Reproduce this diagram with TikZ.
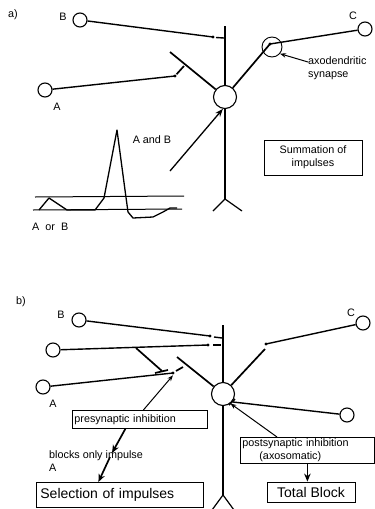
\documentclass[tikz,border=0pt]{standalone}
\usepackage{fontspec}
\setmainfont{Liberation Sans}
\usetikzlibrary{arrows.meta}
\begin{document}
\begin{tikzpicture}[x=1pt,y=-1pt,
  neuron/.style={circle,draw,line width=1.1pt,minimum size=14pt,inner sep=0pt},
  soma/.style={circle,draw,line width=1.1pt,minimum size=23pt,inner sep=0pt},
  ring/.style={circle,draw,line width=0.9pt,minimum size=20pt,inner sep=0pt},
  axon/.style={line width=1.4pt},
  dend/.style={line width=1.7pt},
  trunk/.style={line width=1.2pt},
  trace/.style={line width=1.3pt,line join=round},
  knob/.style={circle,fill,inner sep=0pt,minimum size=3.2pt},
  lbl/.style={font=\fontsize{10.8}{13}\selectfont,inner sep=0pt},
  big/.style={font=\fontsize{14}{16}\selectfont},
  box/.style={draw,line width=0.8pt,inner sep=2pt},
  thin arrow/.style={line width=1pt,-{Stealth[length=6pt,width=4.5pt]}},
  thick arrow/.style={line width=1.7pt,-{Stealth[length=8pt,width=6.5pt]}}
]
\useasboundingbox (0,0) rectangle (375,509);
\fill[white] (0,0) rectangle (375,509);

% ---------------- a) summation ----------------
\node[lbl] (pa) at (13,15) {a)};
\node[neuron] (Ba) at (80,20) {};
\node[lbl] (Bla) at (63,17) {B};
\node[neuron] (Aa) at (45,90) {};
\node[lbl] (Ala) at (57,107) {A};
\node[neuron] (Ca) at (365,29) {};
\node[lbl] (Cla) at (353,16) {C};
\node[soma] (Sa) at (225,97) {};
\node[ring] (ringa) at (272,47) {};

% dendritic tree and base
\draw[trunk] (Sa) -- (225,26);
\draw[trunk] (Sa) -- (225,199) coordinate (ja);
\draw[trunk] (213,211) -- (ja) -- (242,211);
\draw[dend] (170,52) -- (Sa);
\coordinate (sa) at (270,44);
\draw[dend] (Sa) -- (sa);

% afferent axons
\draw[axon] (Ba) -- (213,37) node[knob] (kBa) {};
\draw[axon] (kBa) ++(3,0.5) -- (224,38);
\draw[axon] (Aa) -- (175,76) node[knob] (kAa) {};
\draw[dend] (kAa) -- (184,66);
\draw[axon] (Ca) -- (sa) node[knob] {};

% labels
\node[lbl,align=left,anchor=north west] (axl) at (308,56) {axodendritic\\synapse};
\draw[thin arrow] ([yshift=-6pt]axl.north west) -- (ringa.-40);
\node[lbl] (ab) at (152,140) {A and B};
\coordinate (abt) at (170,171);
\draw[line width=1.3pt,-{Stealth[length=8pt,width=6pt]}] (abt) -- (Sa.-100);

% membrane potential traces
\draw[line width=1pt] (35,197) -- (184,196);
\draw[line width=1pt] (33,210) -- (182,209);
\draw[trace] (39,210) -- (49,198) -- (67,210) -- (95,210) -- (104,198)
  -- (117,130) -- (125,190) -- (128,212) -- (133,218) -- (153,217)
  -- (163,212) -- (170,208) -- (177,208);
\node[lbl,anchor=west] (aob) at (32,227) {A\ \ or\ \ B};

\node[box,minimum width=98pt,minimum height=35pt,align=center,lbl]
  (sum) at (313,157.5) {Summation of\\impulses};

% ---------------- b) inhibition ----------------
\node[lbl] (pb) at (21,302) {b)};
\node[neuron] (Bb) at (79,320) {};
\node[lbl] (Blb) at (61,315) {B};
\node[neuron] (Nb) at (53,350) {};
\node[neuron] (Ab) at (43,387) {};
\node[lbl] (Alb) at (53,404) {A};
\node[neuron] (Cb) at (363,323) {};
\node[lbl] (Clb) at (351,313) {C};
\node[neuron] (Ib) at (347,415) {};
\node[soma] (Sb) at (223,394) {};

% dendritic tree and base
\draw[trunk] (Sb) -- (223,325);
\draw[trunk] (Sb) -- (223,495) coordinate (jb);
\draw[trunk] (212,510) -- (jb) -- (234,510);
\draw[dend] (177,357) -- (Sb);
\draw[dend] (Sb) -- (265,349);

% afferent axons
\draw[axon] (Bb) -- (210,336) node[knob] (kBb) {};
\draw[axon] (214,337) -- (222,338);
\draw[axon] (Nb) -- (208,345) node[knob] (kNb) {};
\draw[axon] (213,345) -- (221,345);
\draw[dend] (136,348) -- (162,371);
\draw[dend] (155,373) -- (168,370);
\draw[axon] (Ab) -- (173,373) node[knob] (kAb) {};
\draw[dend] (176,371) -- (183,367);
\draw[axon] (Cb) -- (266,344) node[knob] (kCb) {};
\draw[axon] (Ib) -- (233,402);
\draw[dend] (229,405) -- (235,399);

% inhibition labels
\node[box,lbl,anchor=north west,minimum width=135pt,minimum height=18pt,
  text width=131pt,align=left] (pre) at (72,410) {presynaptic inhibition};
\draw[thin arrow] ([xshift=3.5pt]pre.north) -- (kAb.south);
\node[lbl,align=left,anchor=north west] (blk) at (49,450) {blocks only impulse\\A};
\node[box,big,anchor=north west,minimum width=167pt,minimum height=25pt,
  text width=159pt,align=left,inner sep=4pt] (sel) at (36,482) {Selection of impulses};
\draw[thick arrow] ([xshift=-14.5pt]pre.south) -- (112,453);
\draw[thick arrow] (110,457) -- ([xshift=-21.5pt]sel.north);

\node[box,lbl,anchor=north west,minimum width=134pt,minimum height=26pt,
  text width=130pt,align=left] (post) at (240,437)
  {postsynaptic inhibition\\\hspace*{17pt}(axosomatic)};
\draw[thin arrow] ([xshift=37pt]post.north west) -- (Sb.-52);
\node[box,big,minimum width=88pt,minimum height=20pt] (tb) at (311,492) {Total Block};
\draw[thick arrow] (post.south) -- (post.south |- tb.north);
\end{tikzpicture}
\end{document}
